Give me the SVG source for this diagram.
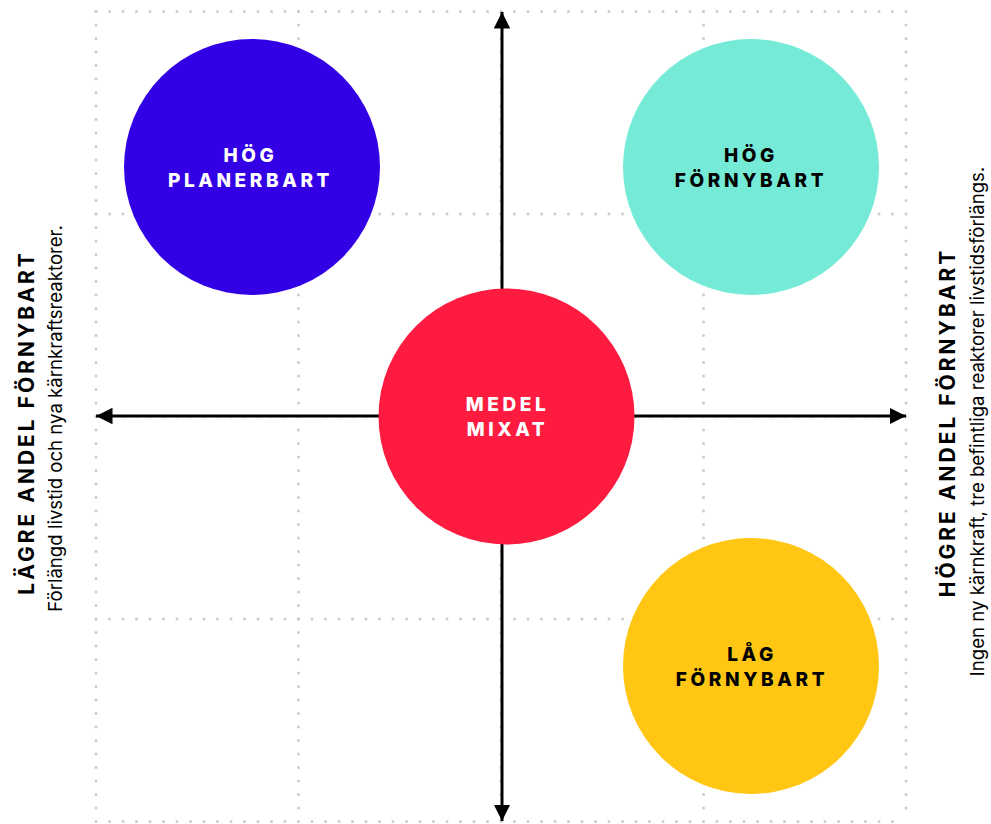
<svg xmlns="http://www.w3.org/2000/svg" width="991" height="824" viewBox="0 0 991 824">
<defs>
<style>
.grid{stroke:#cccccc;stroke-width:3;stroke-linecap:round;stroke-dasharray:0 13.5;fill:none}
.axis{stroke:#000;stroke-width:3;fill:none}
.lbl{font-family:Inter,"Liberation Sans",sans-serif;font-weight:800;font-size:19px;letter-spacing:3.6px;text-anchor:middle}
.title{font-family:Inter,"Liberation Sans",sans-serif;font-weight:700;font-size:21px;letter-spacing:3px;text-anchor:middle}
.sub{font-family:Inter,"Liberation Sans",sans-serif;font-size:18.6px;text-anchor:middle}
</style>
<marker id="ah" viewBox="0 0 10 10" refX="10" refY="5" markerWidth="5.5" markerHeight="5.5" orient="auto-start-reverse" markerUnits="strokeWidth">
<path d="M0,0 L10,5 L0,10 z" fill="#000"/>
</marker>
</defs>
<rect width="991" height="824" fill="#fff"/>
<g id="grid">
<path class="grid" d="M96,11.5 H906 M96,214 H906 M96,416.5 H906 M96,619 H906 M96,821.5 H906"/>
<path class="grid" d="M96,11.5 V821.5 M298.5,11.5 V821.5 M501,11.5 V821.5 M703.5,11.5 V821.5 M906,11.5 V821.5"/>
</g>
<g id="connectors">
<line class="axis" x1="502" y1="420" x2="502" y2="12" marker-end="url(#ah)"/>
<line class="axis" x1="502" y1="412" x2="502" y2="821" marker-end="url(#ah)"/>
<line class="axis" x1="510" y1="416" x2="96" y2="416" marker-end="url(#ah)"/>
<line class="axis" x1="500" y1="416" x2="906" y2="416" marker-end="url(#ah)"/>
</g>
<g id="hog-planerbart">
<circle cx="252" cy="167" r="128" fill="#3300E6"/>
<text class="lbl" x="250.5" y="162" fill="#fff">HÖG</text>
<text class="lbl" x="250.5" y="187" fill="#fff">PLANERBART</text>
</g>
<g id="hog-fornybart">
<circle cx="751" cy="167" r="128" fill="#75EBD7"/>
<text class="lbl" x="751" y="162" fill="#000">HÖG</text>
<text class="lbl" x="751" y="187" fill="#000">FÖRNYBART</text>
</g>
<g id="medel-mixat">
<circle cx="506.5" cy="416.5" r="128" fill="#FE1B40"/>
<text class="lbl" x="507.5" y="411" fill="#fff">MEDEL</text>
<text class="lbl" x="507.5" y="436" fill="#fff">MIXAT</text>
</g>
<g id="lag-fornybart">
<circle cx="751" cy="666" r="128" fill="#FFC613"/>
<text class="lbl" x="752" y="661" fill="#000">LÅG</text>
<text class="lbl" x="752" y="686" fill="#000">FÖRNYBART</text>
</g>
<g id="left-label">
<text class="title" transform="translate(34,422.5) rotate(-90)">LÄGRE ANDEL FÖRNYBART</text>
<text class="sub" transform="translate(62,418.5) rotate(-90)">Förlängd livstid och nya kärnkraftsreaktorer.</text>
</g>
<g id="right-label">
<text class="title" transform="translate(955,422.5) rotate(-90)">HÖGRE ANDEL FÖRNYBART</text>
<text class="sub" transform="translate(984,421.5) rotate(-90)">Ingen ny kärnkraft, tre befintliga reaktorer livstidsförlängs.</text>
</g>
</svg>
